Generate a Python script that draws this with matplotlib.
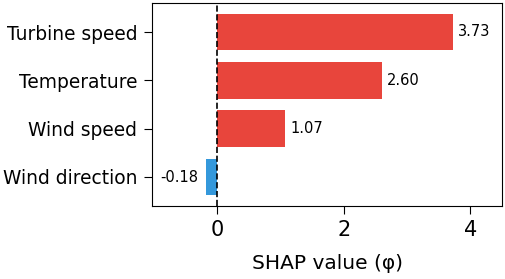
import matplotlib
matplotlib.use("Agg")
import matplotlib.pyplot as plt

features = ["Turbine speed", "Temperature", "Wind speed", "Wind direction"]
values = [3.73, 2.60, 1.07, -0.18]
labels = ["3.73", "2.60", "1.07", "-0.18"]

fig = plt.figure(figsize=(5.05, 2.79), dpi=100)
ax = fig.add_axes([152/505, 1 - 206/279, (502-152)/505, (206-3)/279])

ypos = list(range(len(features)))[::-1]
colors = ["#e8453c" if v >= 0 else "#3498db" for v in values]
ax.barh(ypos, values, height=0.76, color=colors)
ax.axvline(0, color="black", linestyle="--", linewidth=1.2)
for y, v, t in zip(ypos, values, labels):
    if v >= 0:
        ax.text(v + 0.08, y, t, va="center", ha="left", fontsize=10.5)
    else:
        ax.text(v - 0.12, y, t, va="center", ha="right", fontsize=10.5)

ax.set_yticks(ypos)
ax.set_yticklabels(features, fontsize=13.4)
ax.set_xlim(-1.03, 4.5)
ax.set_ylim(-0.6, 3.6)
ax.set_xticks([0, 2, 4])
ax.tick_params(axis="y", length=6, pad=4.5)
ax.tick_params(axis="x", labelsize=15, length=6, pad=4)
ax.set_xlabel("SHAP value (φ)", fontsize=14.5, labelpad=10)
fig.savefig("out.png", dpi=100)
